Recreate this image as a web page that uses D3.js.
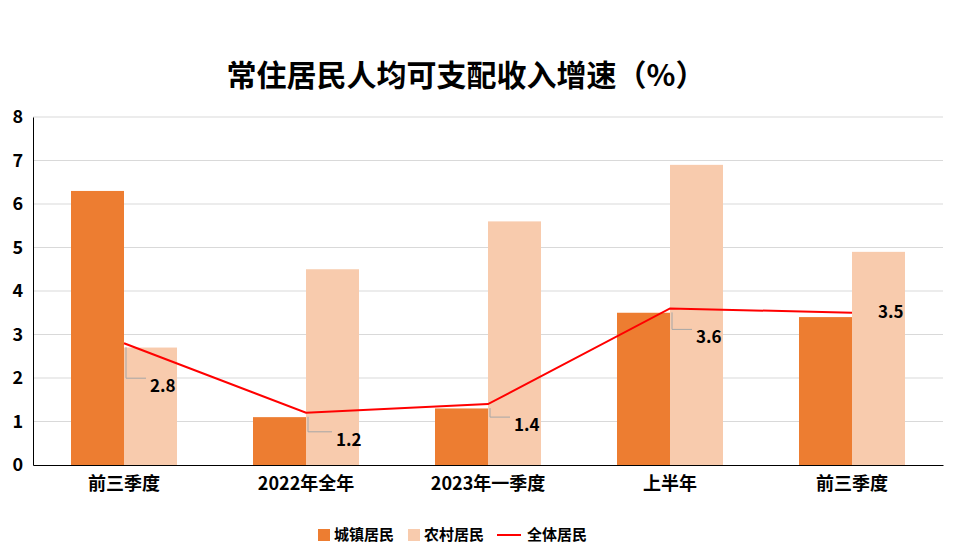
<!DOCTYPE html>
<html><head><meta charset="utf-8">
<script src="https://cdn.jsdelivr.net/npm/d3@7"></script>
<style>body{margin:0;background:#fff}text{font-family:"Noto Sans CJK SC","Noto Sans",sans-serif}</style>
</head><body>
<svg id="chart" width="964" height="555"></svg>
<script>
const categories = ["前三季度", "2022年全年", "2023年一季度", "上半年", "前三季度"];
const urban = [6.3, 1.1, 1.3, 3.5, 3.4];
const rural = [2.7, 4.5, 5.6, 6.9, 4.9];
const total = [2.8, 1.2, 1.4, 3.6, 3.5];
const yTicks = [0, 1, 2, 3, 4, 5, 6, 7, 8];

// label offsets from the line point (layout only)
const labelOffsets = [[26, 43], [30, 27], [26, 21], [26, 29], [26, -1]];

const svg = d3.select("#chart");
const margin = { top: 117, right: 21, bottom: 90, left: 33 };
const width = 964 - margin.left - margin.right;
const height = 555 - margin.top - margin.bottom;

const x = d3.scaleBand().domain(d3.range(categories.length)).range([0, width]);
const y = d3.scaleLinear().domain([0, 8]).range([height, 0]);
const barW = 53;

svg.append("text").attr("x", 466).attr("y", 86).attr("text-anchor", "middle")
  .attr("font-size", 30).attr("font-weight", "bold").text("常住居民人均可支配收入增速（%）");

const g = svg.append("g").attr("transform", `translate(${margin.left},${margin.top})`);

g.selectAll(".grid").data(yTicks.slice(1)).enter().append("line")
  .attr("x1", 0).attr("x2", width).attr("y1", d => y(d)).attr("y2", d => y(d))
  .attr("stroke", "#d9d9d9");

const cx = i => x(i) + x.bandwidth() / 2;

g.selectAll(".u").data(urban).enter().append("rect")
  .attr("x", (d, i) => cx(i) - barW).attr("y", d => y(d))
  .attr("width", barW).attr("height", d => height - y(d)).attr("fill", "#ED7D31");
g.selectAll(".r").data(rural).enter().append("rect")
  .attr("x", (d, i) => cx(i)).attr("y", d => y(d))
  .attr("width", barW).attr("height", d => height - y(d)).attr("fill", "#F8CBAD");

g.append("path").datum(total)
  .attr("d", d3.line().x((d, i) => cx(i)).y(d => y(d)))
  .attr("fill", "none").attr("stroke", "#FF0000").attr("stroke-width", 2);

total.forEach((d, i) => {
  const px = cx(i), py = y(d);
  const [dx, dy] = labelOffsets[i];
  if (dy > 5) {
    g.append("path").attr("d", `M${px + 2},${py + 4}V${py + dy - 8}H${px + dx - 4}`)
      .attr("fill", "none").attr("stroke", "#a6a6a6");
  }
  g.append("text").attr("x", px + dx).attr("y", py + dy).attr("dy", "0.35em")
    .attr("font-size", 17).attr("font-weight", "bold").text(d.toFixed(1));
});

const xAxis = g.append("g").attr("transform", `translate(0,${height})`)
  .call(d3.axisBottom(x).tickSize(0).tickPadding(12).tickFormat(i => categories[i]));
xAxis.select(".domain").attr("stroke", "#000");
xAxis.selectAll("text").attr("font-size", 18).attr("font-weight", "bold").attr("fill", "#000")
  .style("font-family", '"Noto Sans CJK SC",sans-serif');

const yAxis = g.append("g").call(d3.axisLeft(y).tickValues(yTicks).tickSize(0).tickPadding(10));
yAxis.select(".domain").attr("stroke", "#000");
yAxis.selectAll("text").attr("font-size", 18).attr("font-weight", "bold").attr("fill", "#000")
  .style("font-family", '"Noto Sans CJK SC",sans-serif');

const legend = [["城镇居民", "#ED7D31", "rect"], ["农村居民", "#F8CBAD", "rect"], ["全体居民", "#FF0000", "line"]];
const lx = [318, 408, 505];
legend.forEach(([name, c, t], i) => {
  const lg = svg.append("g").attr("transform", `translate(${lx[i]},535)`);
  if (t === "rect") lg.append("rect").attr("x", 0).attr("y", -6).attr("width", 12).attr("height", 12).attr("fill", c);
  else lg.append("line").attr("x1", -8).attr("x2", 16).attr("y1", 0).attr("y2", 0).attr("stroke", c).attr("stroke-width", 2);
  lg.append("text").attr("x", t === "rect" ? 16 : 22).attr("dy", "0.35em")
    .attr("font-size", 15).attr("font-weight", "bold").text(name);
});
</script>
</body></html>
